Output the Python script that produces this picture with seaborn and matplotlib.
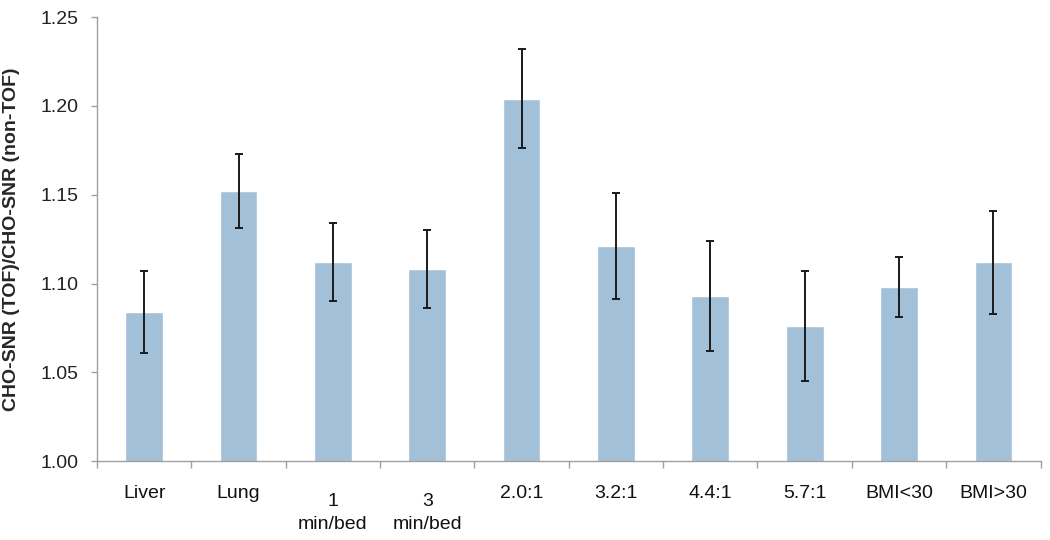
import numpy as np
import pandas as pd
import matplotlib
matplotlib.use("Agg")
import matplotlib.pyplot as plt
from matplotlib.transforms import ScaledTranslation
import seaborn as sns

# values
categories = ["Liver", "Lung", "1\nmin/bed", "3\nmin/bed", "2.0:1", "3.2:1",
              "4.4:1", "5.7:1", "BMI<30", "BMI>30"]
ratio = [1.084, 1.152, 1.112, 1.108, 1.204, 1.121, 1.093, 1.076, 1.098, 1.112]
err = [0.023, 0.021, 0.022, 0.022, 0.028, 0.030, 0.031, 0.031, 0.017, 0.029]

df = pd.DataFrame({"group": categories, "ratio": ratio, "err": err})

sns.set_style("white")
plt.rcParams["font.family"] = ["Liberation Sans", "DejaVu Sans"]

fig = plt.figure(figsize=(10.5, 5.4), dpi=100)
ax = fig.add_axes([0.0924, 0.146, 0.8986, 0.8225])

sns.barplot(data=df, x="group", y="ratio", color="#A3C0D9", saturation=1,
            width=0.4, errorbar=None, ax=ax)
ax.errorbar(np.arange(len(categories)), df["ratio"], yerr=df["err"],
            fmt="none", ecolor="#1a1a1a", elinewidth=1.4, capsize=2.6,
            capthick=1.4)

ax.set_ylim(1.00, 1.25)
ax.set_yticks([1.00, 1.05, 1.10, 1.15, 1.20, 1.25])
ax.set_yticklabels(["1.00", "1.05", "1.10", "1.15", "1.20", "1.25"])
ax.set_xlim(-0.5, len(categories) - 0.5)

ax.set_xlabel("")
ax.set_ylabel("CHO-SNR (TOF)/CHO-SNR (non-TOF)", fontsize=14,
              fontweight="bold", labelpad=15)

for s in ["top", "right"]:
    ax.spines[s].set_visible(False)
for s in ["left", "bottom"]:
    ax.spines[s].set_color("#a0a0a0")
    ax.spines[s].set_linewidth(1.0)

ax.tick_params(axis="y", left=True, length=4, width=1, color="#a0a0a0",
               labelsize=14, labelcolor="#222222", pad=9)
ax.tick_params(axis="x", which="major", bottom=False, length=0,
               labelsize=14, labelcolor="#111111", pad=17)
ax.set_xticks(np.arange(-0.5, len(categories)), minor=True)
ax.tick_params(axis="x", which="minor", bottom=True, length=5, width=1,
               color="#a0a0a0")

offset = ScaledTranslation(0, -8 / 100, fig.dpi_scale_trans)
for lab in ax.get_xticklabels():
    if "\n" in lab.get_text():
        lab.set_linespacing(1.5)
        lab.set_transform(lab.get_transform() + offset)

fig.savefig("out.png", dpi=100)
